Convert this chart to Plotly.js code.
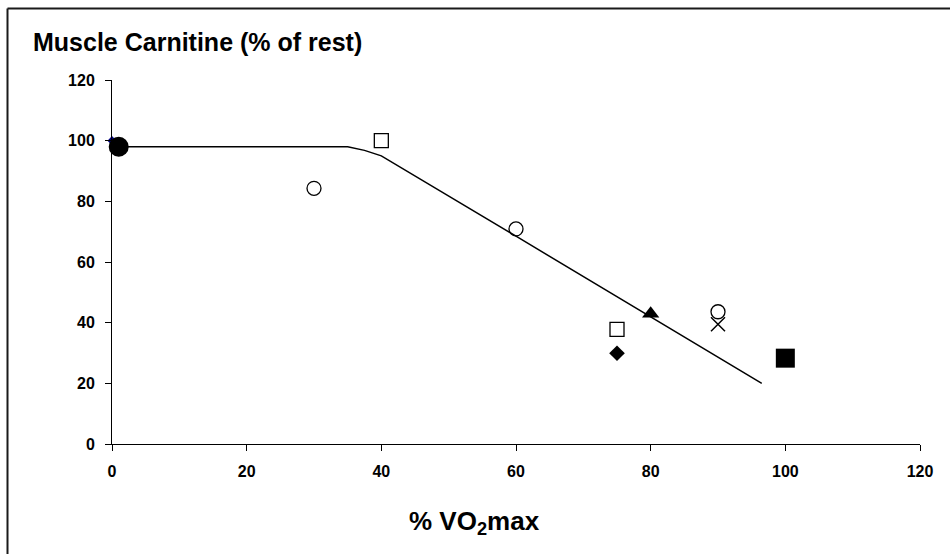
<!DOCTYPE html>
<html>
<head>
<meta charset="utf-8">
<script src="https://cdn.plot.ly/plotly-3.0.1.min.js"></script>
<style>html,body{margin:0;padding:0;background:#fff;}#chart{width:950px;height:554px;}</style>
</head>
<body>
<div id="chart"></div>
<script>
// Fitted curve
const curveX = [0, 35, 37.5, 40, 60, 80, 96.5];
const curveY = [98, 98, 96.8, 95, 68.5, 42, 20];
// Study data points
const openCircleX = [30, 60, 90];
const openCircleY = [84.3, 70.9, 43.6];
const openSquareX = [40, 75];
const openSquareY = [100, 37.8];
const diamondX = [75];
const diamondY = [29.9];
const triangleX = [80];
const triangleY = [42.9];
const crossX = [90];
const crossY = [39.5];
const filledSquareX = [100];
const filledSquareY = [28.3];
const bigCircleX = [1];
const bigCircleY = [98];
const navyX = [0];
const navyY = [100];
const xTicks = [0, 20, 40, 60, 80, 100, 120];
const yTicks = [0, 20, 40, 60, 80, 100, 120];

const FONT = 'Liberation Sans, Arial, Helvetica, sans-serif';
function pts(x, y, symbol, size, color, lw) {
  return {x: x, y: y, type: 'scatter', mode: 'markers', cliponaxis: false, showlegend: false,
    hoverinfo: 'skip',
    marker: {symbol: symbol, size: size, color: color, line: {color: color, width: lw}}};
}
const traces = [
  pts(navyX, navyY, 'diamond', 7, '#000080', 0),
  {x: curveX, y: curveY, type: 'scatter', mode: 'lines', cliponaxis: false, showlegend: false,
   line: {color: '#000000', width: 1.5}, hoverinfo: 'skip'},
  pts(openCircleX, openCircleY, 'circle-open', 14, '#000000', 1.3),
  pts(openSquareX, openSquareY, 'square-open', 14, '#000000', 1.3),
  pts(diamondX, diamondY, 'diamond', 12, '#000000', 0),
  pts(triangleX, triangleY, 'triangle-up', 15, '#000000', 0),
  pts(crossX, crossY, 'x-thin-open', 14, '#000000', 1.5),
  pts(filledSquareX, filledSquareY, 'square', 19, '#000000', 0),
  pts(bigCircleX, bigCircleY, 'circle', 20, '#000000', 0)
];
const W = 808, H = 364, L = 112, T = 80;
function px(v) { return (v - L) / W; }
function py(v) { return (T + H - v) / H; }
const layout = {
  width: 950, height: 554,
  margin: {l: 112, r: 30, t: 80, b: 110},
  paper_bgcolor: '#ffffff', plot_bgcolor: '#ffffff',
  font: {family: FONT, color: '#000000'},
  title: {text: 'Muscle Carnitine (% of rest)', xref: 'container', yref: 'container',
    x: 33 / 950, xanchor: 'left', y: 1 - 42 / 554, yanchor: 'middle',
    font: {family: FONT, size: 25, weight: 'bold', color: '#000000'}},
  xaxis: {range: [0, 120], tickvals: xTicks, ticktext: xTicks.map(String),
    ticks: 'outside', ticklen: 6, tickwidth: 1, tickcolor: '#000', showline: true,
    linecolor: '#000', linewidth: 1, showgrid: false, zeroline: false, ticklabelstandoff: 7,
    tickfont: {family: FONT, size: 16, weight: 'bold', color: '#000'}, fixedrange: true},
  yaxis: {range: [0, 120], tickvals: yTicks, ticktext: yTicks.map(String),
    ticks: 'outside', ticklen: 6, tickwidth: 1, tickcolor: '#000', showline: true,
    linecolor: '#000', linewidth: 1, showgrid: false, zeroline: false, ticklabelstandoff: 7,
    tickfont: {family: FONT, size: 16, weight: 'bold', color: '#000'}, fixedrange: true},
  annotations: [{text: '% VO<sub>2</sub>max', xref: 'paper', yref: 'paper',
    x: px(474), y: py(522), xanchor: 'center', yanchor: 'middle', showarrow: false,
    font: {family: FONT, size: 26, weight: 'bold', color: '#000'}}],
  shapes: [
    {type: 'line', xref: 'paper', yref: 'paper', x0: px(7.5), x1: px(952), y0: py(8.5), y1: py(8.5),
     line: {color: '#1a1a1a', width: 2}},
    {type: 'line', xref: 'paper', yref: 'paper', x0: px(7.5), x1: px(7.5), y0: py(8.5), y1: py(556),
     line: {color: '#1a1a1a', width: 2}}
  ]
};
Plotly.newPlot('chart', traces, layout, {displayModeBar: false, staticPlot: true});
</script>
</body>
</html>
